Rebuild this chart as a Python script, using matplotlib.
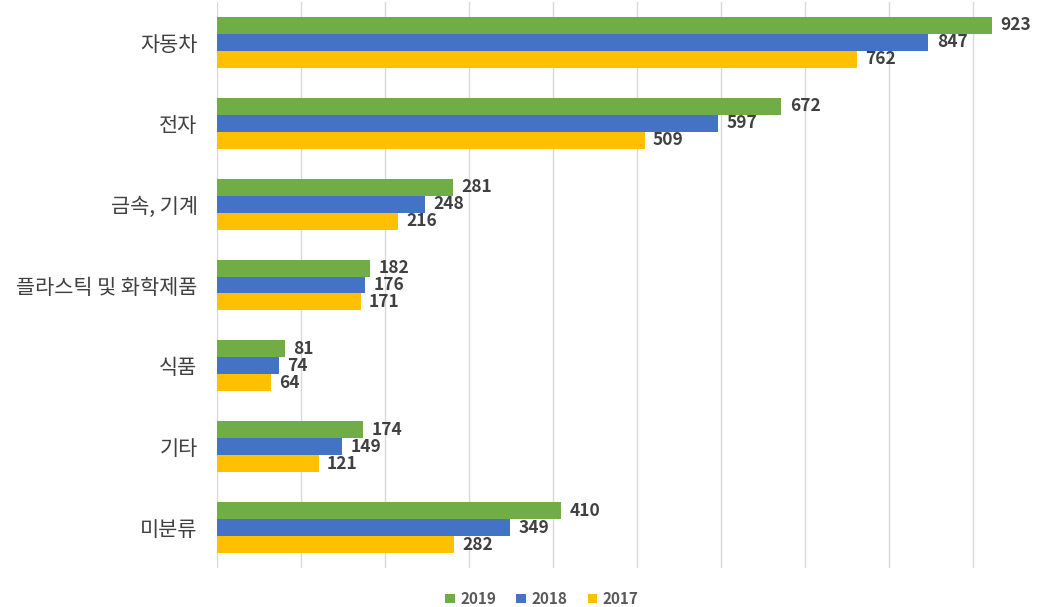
import matplotlib
matplotlib.use("Agg")
import matplotlib.pyplot as plt
import numpy as np

plt.rcParams['font.family'] = ['Noto Sans CJK KR', 'DejaVu Sans']

categories = ['자동차', '전자', '금속, 기계', '플라스틱 및 화학제품', '식품', '기타', '미분류']
series_names = ['2019', '2018', '2017']
v2019 = [923, 672, 281, 182, 81, 174, 410]
v2018 = [847, 597, 248, 176, 74, 149, 349]
v2017 = [762, 509, 216, 171, 64, 121, 282]
colors = ['#70ad47', '#4472c4', '#ffc000']

fig = plt.figure(figsize=(10.41, 6.07), dpi=100)
top_px, bot_px = 2, 568
ax = fig.add_axes([217/1041, 1-bot_px/607, (1057-217)/1041, (bot_px-top_px)/607])

n = len(categories)
y = np.arange(n)
h = 0.21
vals = [v2019, v2018, v2017]
for i, (name, v, c) in enumerate(zip(series_names, vals, colors)):
    pos = y + (i - 1) * h
    ax.barh(pos, v, height=h, color=c, label=name, zorder=3)
    for yy, val in zip(pos, v):
        ax.annotate(str(val), (val, yy), xytext=(6, 0), textcoords='offset points',
                    va='center', ha='left', fontsize=12.5, fontweight='bold',
                    color='#404040', annotation_clip=False)

ax.set_xlim(0, 1000)
ax.set_ylim(n - 0.5, -0.5)
ax.set_xticks(np.arange(0, 1001, 100))
ax.set_xticklabels([])
ax.tick_params(axis='x', length=0)
ax.tick_params(axis='y', length=0, pad=14, labelsize=15, labelcolor='#404040')
ax.set_yticks(y)
ax.set_yticklabels(categories)
ax.grid(axis='x', color='#d9d9d9', linewidth=1, zorder=0)
for s in ax.spines.values():
    s.set_visible(False)

leg = fig.legend(loc='center', bbox_to_anchor=(542/1041, 1-599/607), ncol=3, frameon=False,
                 prop={'size': 11, 'weight': 'bold'}, handlelength=0.6, handleheight=0.6,
                 handletextpad=0.4, columnspacing=1.3, labelcolor='#595959')

fig.savefig('out.png', dpi=100)
